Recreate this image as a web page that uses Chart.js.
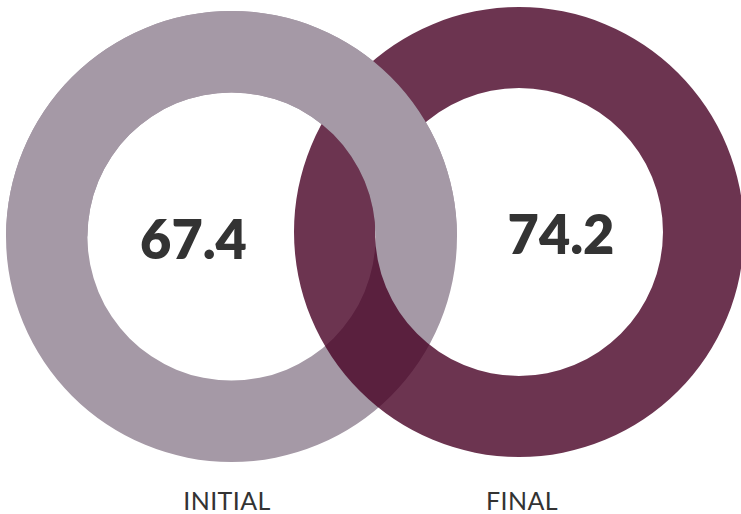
<!DOCTYPE html>
<html>
<head>
<meta charset="utf-8">
<script src="https://cdn.jsdelivr.net/npm/chart.js@4/dist/chart.umd.min.js"></script>
<style>
  html, body { margin: 0; padding: 0; background: #fff; overflow: hidden; }
  #stage { position: relative; width: 741px; height: 514px; overflow: hidden; }
  .ring { position: absolute; }
  #ring-initial, #ring-initial-top { left: 6px; top: 11px; width: 451px; height: 451px; }
  #ring-final { left: 294px; top: 7px; width: 450px; height: 450px; }
  .caption {
    position: absolute; top: 485px; width: 200px; margin-left: -100px;
    text-align: center; font-family: Lato, "Open Sans", sans-serif;
    font-size: 25px; color: #333; letter-spacing: 0.4px;
  }
</style>
</head>
<body>
<div id="stage">
  <div class="ring" id="ring-initial"><canvas id="c-initial"></canvas></div>
  <div class="ring" id="ring-final"><canvas id="c-final"></canvas></div>
  <div class="ring" id="ring-initial-top"><canvas id="c-initial-top"></canvas></div>
  <div class="caption" id="cap-initial" style="left:227px"></div>
  <div class="caption" id="cap-final" style="left:522px"></div>
</div>
<script>
  const labels = ["INITIAL", "FINAL"];
  const scores = [67.4, 74.2];

  const colors = {
    initial: "#a599a6",
    final: "rgba(71, 1, 36, 0.8)",
    text: "#333333"
  };

  // writes the score near the middle of a ring
  const centerText = {
    id: "centerText",
    afterDraw(chart, args, opts) {
      if (!opts.text) return;
      const { ctx, chartArea } = chart;
      const x = (chartArea.left + chartArea.right) / 2 + (opts.dx || 0);
      const y = (chartArea.top + chartArea.bottom) / 2;
      ctx.save();
      ctx.font = "800 54px Lato, Inter, sans-serif";
      ctx.fillStyle = colors.text;
      ctx.textAlign = "center";
      ctx.textBaseline = "middle";
      ctx.fillText(opts.text, x, y + 5);
      ctx.restore();
    }
  };

  function ring(canvasId, data, bg, cutout, text, dx) {
    return new Chart(document.getElementById(canvasId), {
      type: "doughnut",
      data: {
        labels: data.map((_, i) => String(i)),
        datasets: [{
          data,
          backgroundColor: bg,
          borderWidth: 0,
          hoverOffset: 0
        }]
      },
      options: {
        responsive: true,
        maintainAspectRatio: false,
        animation: false,
        cutout,
        rotation: -90,
        events: [],
        layout: { padding: 0 },
        plugins: {
          legend: { display: false },
          tooltip: { enabled: false },
          centerText: { text, dx }
        }
      },
      plugins: [centerText]
    });
  }

  // full initial ring, then the final ring over it,
  // then the upper half of the initial ring again so it sits in front at the top
  ring("c-initial", [scores[0]], [colors.initial], "63.9%", scores[0].toFixed(1), -38);
  ring("c-final", [scores[1]], [colors.final], "64%", scores[1].toFixed(1), 42);
  ring("c-initial-top", [scores[0], scores[0]], [colors.initial, "rgba(0,0,0,0)"], "63.9%", "", 0);

  document.getElementById("cap-initial").textContent = labels[0];
  document.getElementById("cap-final").textContent = labels[1];
</script>
</body>
</html>
